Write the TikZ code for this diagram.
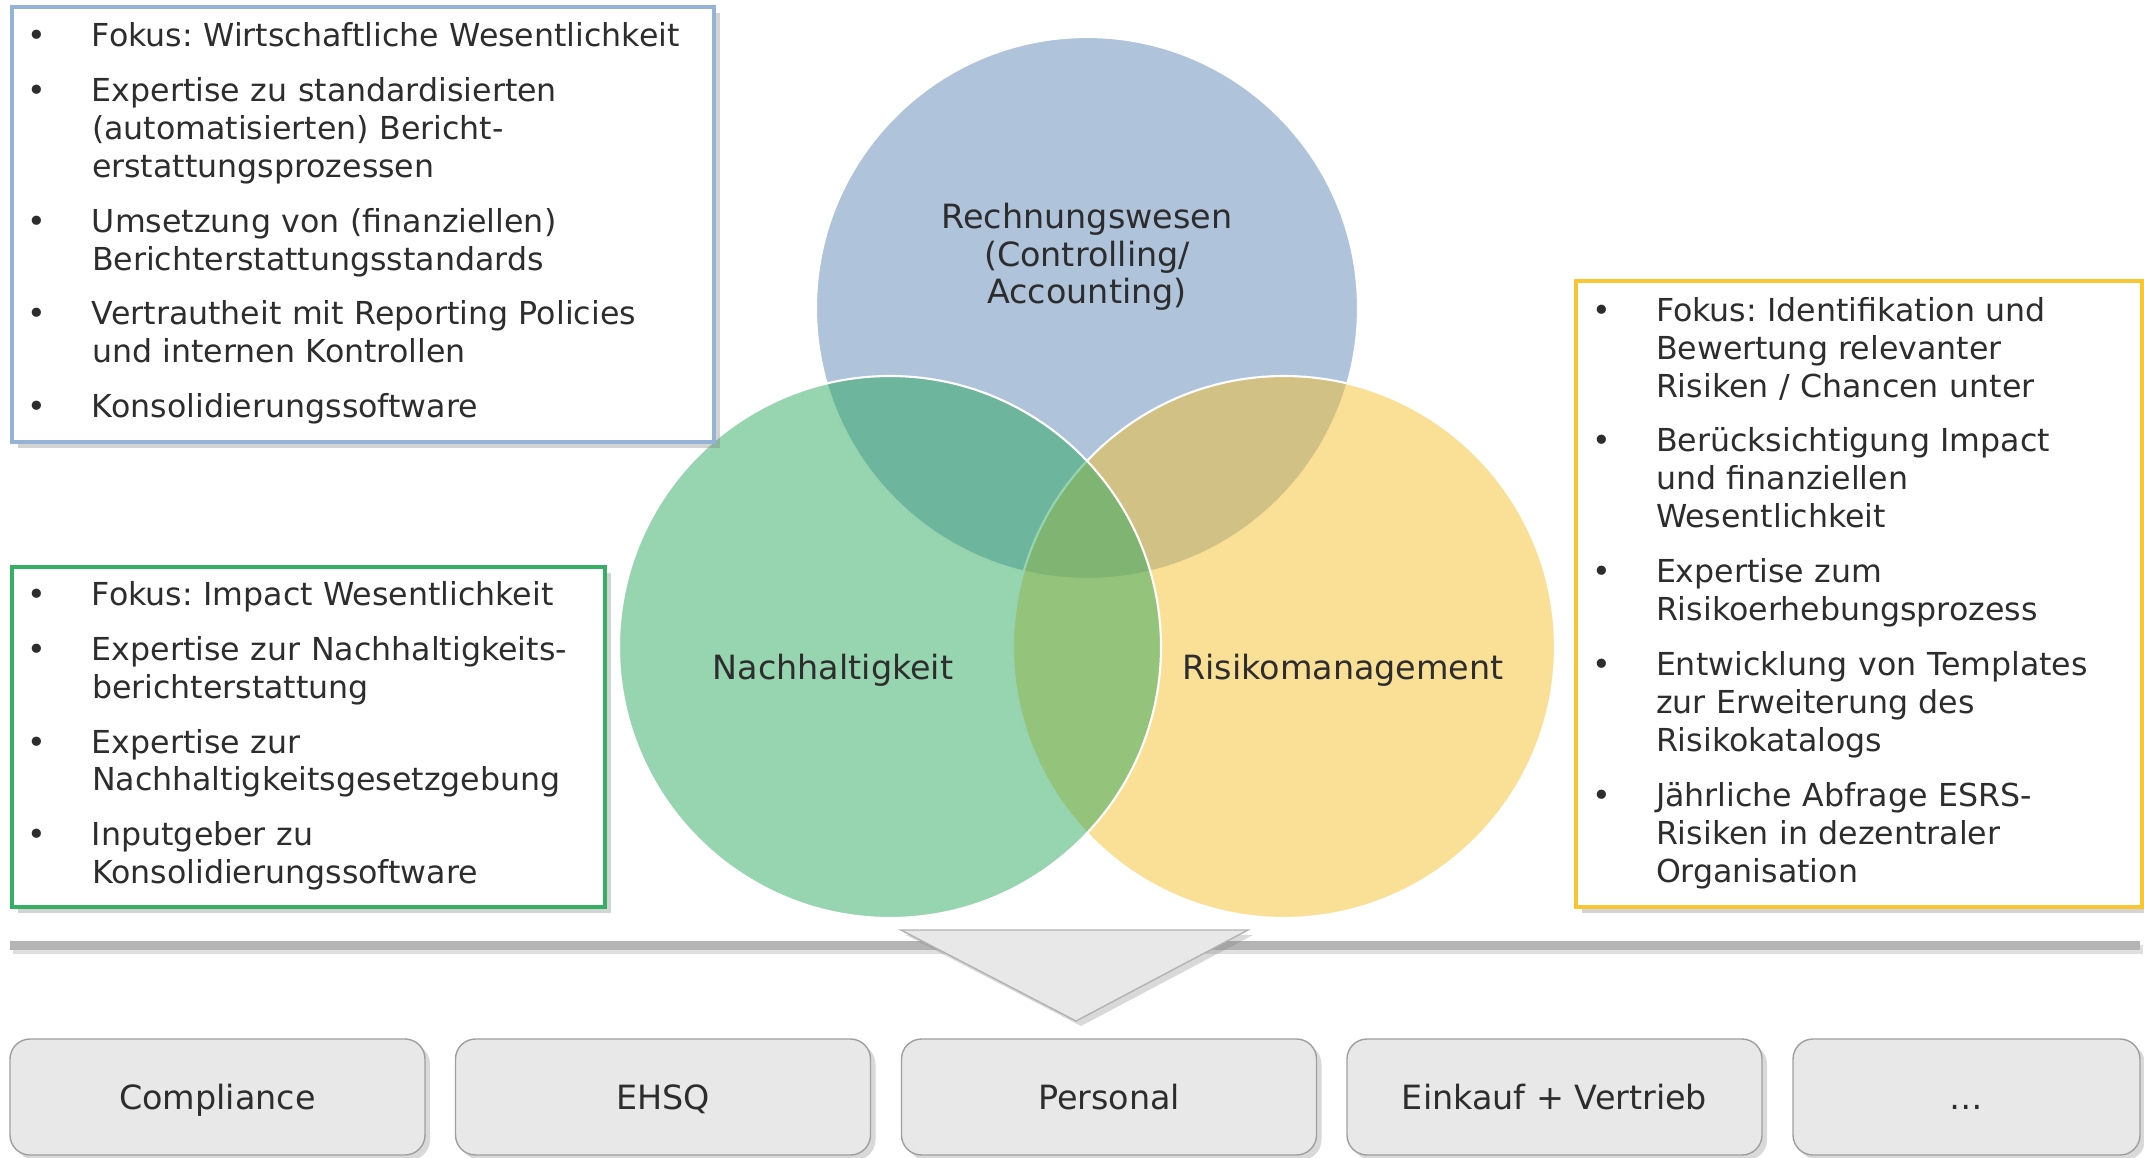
\documentclass[tikz,border=0pt]{standalone}
\usepackage{fontspec}
\setmainfont{DejaVu Sans}
\usepackage{tikz}
\usetikzlibrary{shadows}

\definecolor{rwblau}{RGB}{95,135,183}
\definecolor{nhgruen}{RGB}{47,169,97}
\definecolor{rmgelb}{RGB}{245,193,47}
\definecolor{rahmenblau}{RGB}{149,179,215}
\definecolor{rahmengruen}{RGB}{52,175,100}
\definecolor{rahmengelb}{RGB}{250,197,50}
\definecolor{schrift}{RGB}{45,45,45}
\definecolor{kasten}{RGB}{232,232,232}
\definecolor{balken}{RGB}{180,180,180}

\newcommand{\listfont}{\fontsize{9}{10.8}\selectfont}
\newcommand{\itemgap}{\\[4.8pt]}
\frenchspacing

\begin{document}
\begin{tikzpicture}[
		textbox/.style={rectangle,fill=white,line width=0.4mm,anchor=north west,inner xsep=1.6mm,inner ysep=0mm,text=schrift,font=\listfont,drop shadow={shadow xshift=0.6mm,shadow yshift=-0.6mm,opacity=0.35}},
		venn/.style={circle,minimum size=5.42cm,inner sep=0mm,fill opacity=0.5,draw=white,line width=0.6pt},
		kreistext/.style={text=schrift,align=center,font=\fontsize{9.5}{10.6}\selectfont},
		bereich/.style={rectangle,rounded corners=2mm,fill=kasten,draw=gray!75,line width=0.4pt,minimum width=4.15cm,minimum height=1.16cm,text height=2.8mm,text depth=0.4mm,text=schrift,font=\fontsize{9.5}{11}\selectfont,drop shadow={shadow xshift=0.5mm,shadow yshift=-0.5mm,opacity=0.3}}
	]
		\useasboundingbox (0,0) rectangle (21.44,-11.57);

		% venn diagram
		\node (rw)[venn,fill=rwblau] at (10.87,-3.08) {};
		\node (rm)[venn,fill=rmgelb] at (12.84,-6.47) {};
		\node (nh)[venn,fill=nhgruen] at (8.90,-6.47) {};
		\node (rwtext)[kreistext] at (10.87,-2.57) {Rechnungswesen\\(Controlling/\\Accounting)};
		\node (nhtext)[kreistext] at (8.33,-6.70) {Nachhaltigkeit};
		\node (rmtext)[kreistext] at (13.43,-6.70) {Risikomanagement};

		% fokus boxes
		\node (fokusrw)[textbox,draw=rahmenblau,text width=67.0mm,minimum height=43.5mm] at (0.10,-0.05) {
			\begin{tabular}{@{}p{6.4mm}@{}l@{}}
				\textbullet & Fokus: Wirtschaftliche Wesentlichkeit\itemgap
				\textbullet & Expertise zu standardisierten\\
				& (automatisierten) Bericht-\\
				& erstattungsprozessen\itemgap
				\textbullet & Umsetzung von (finanziellen)\\
				& Berichterstattungsstandards\itemgap
				\textbullet & Vertrautheit mit Reporting Policies\\
				& und internen Kontrollen\itemgap
				\textbullet & Konsolidierungssoftware
			\end{tabular}};

		\node (fokusnh)[textbox,draw=rahmengruen,text width=56.1mm,minimum height=34.0mm] at (0.10,-5.65) {
			\begin{tabular}{@{}p{6.4mm}@{}l@{}}
				\textbullet & Fokus: Impact Wesentlichkeit\itemgap
				\textbullet & Expertise zur Nachhaltigkeits-\\
				& berichterstattung\itemgap
				\textbullet & Expertise zur\\
				& Nachhaltigkeitsgesetzgebung\itemgap
				\textbullet & Inputgeber zu\\
				& Konsolidierungssoftware
			\end{tabular}};

		\node (fokusrm)[textbox,draw=rahmengelb,text width=53.4mm,minimum height=62.6mm] at (15.74,-2.79) {
			\begin{tabular}{@{}p{6.4mm}@{}l@{}}
				\textbullet & Fokus: Identifikation und\\
				& Bewertung relevanter\\
				& Risiken / Chancen unter\itemgap
				\textbullet & Berücksichtigung Impact\\
				& und finanziellen\\
				& Wesentlichkeit\itemgap
				\textbullet & Expertise zum\\
				& Risikoerhebungsprozess\itemgap
				\textbullet & Entwicklung von Templates\\
				& zur Erweiterung des\\
				& Risikokatalogs\itemgap
				\textbullet & Jährliche Abfrage ESRS-\\
				& Risiken in dezentraler\\
				& Organisation
			\end{tabular}};

		% bar and arrow
		\fill[balken,drop shadow={shadow xshift=0.3mm,shadow yshift=-0.4mm,opacity=0.25}] (0.10,-9.41) rectangle (21.40,-9.50);
		\filldraw[fill=kasten,draw=gray!60,line width=0.4pt,drop shadow={shadow xshift=0.5mm,shadow yshift=-0.5mm,opacity=0.3}] (9.01,-9.30) -- (12.48,-9.30) -- (10.76,-10.21) -- cycle;

		% areas
		\foreach \x/\name/\bez in {2.175/compliance/Compliance,6.63/ehsq/EHSQ,11.09/personal/Personal,15.545/einkauf/Einkauf + Vertrieb}{
			\node (\name)[bereich] at (\x,-10.97) {\bez};
		}
		\node (weitere)[bereich,minimum width=3.47cm] at (19.665,-10.97) {…};
\end{tikzpicture}
\end{document}
